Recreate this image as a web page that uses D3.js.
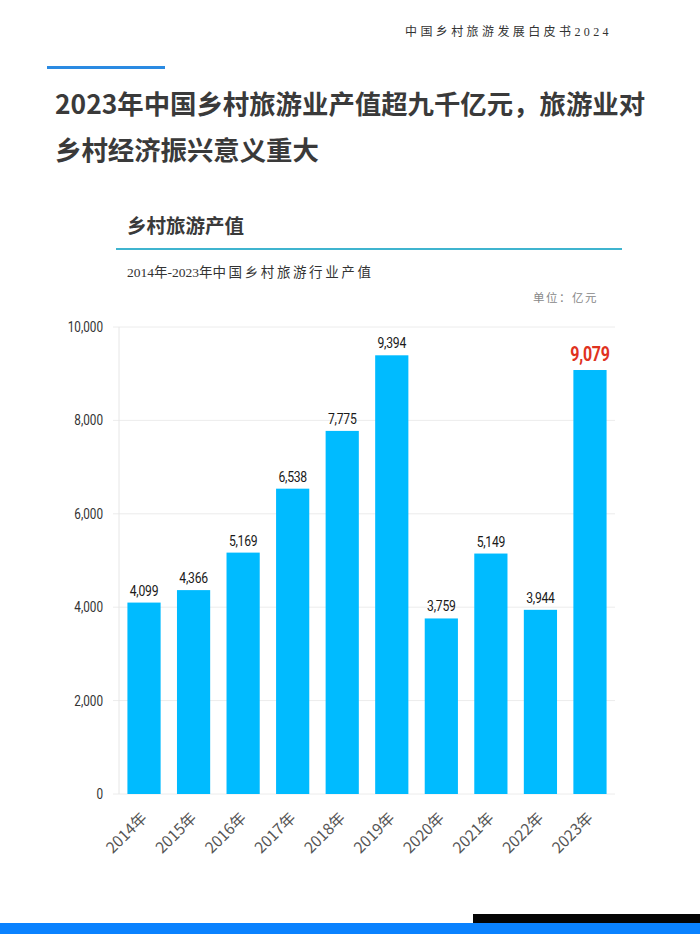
<!DOCTYPE html>
<html><head><meta charset="utf-8">
<script src="https://cdn.jsdelivr.net/npm/d3@7/dist/d3.min.js"></script>
<style>
html,body{margin:0;padding:0;background:#fff;}
svg{display:block;}
</style></head>
<body>
<svg id="c" width="700" height="934"></svg>
<script>
const years = ["2014年","2015年","2016年","2017年","2018年","2019年","2020年","2021年","2022年","2023年"];
const values = [4099,4366,5169,6538,7775,9394,3759,5149,3944,9079];
const yTicks = [0,2000,4000,6000,8000,10000];
const headerText = "中国乡村旅游发展白皮书2024";
const titleLines = ["2023年中国乡村旅游业产值超九千亿元，旅游业对","乡村经济振兴意义重大"];
const sectionTitle = "乡村旅游产值";
const subTitleA = "2014年-2023年";
const subTitleB = "中国乡村旅游行业产值";
const unitText = "单位：亿元";

const svg = d3.select("#c");
const cjk = "'Noto Sans CJK SC','Noto Sans',sans-serif";
const serif = "'Liberation Serif','DejaVu Serif','Noto Sans CJK SC',serif";
const narrow = "'Roboto','Noto Sans CJK SC',sans-serif";

// header
svg.append("text").attr("x",612).attr("y",36).attr("text-anchor","end")
  .attr("font-family",serif).attr("font-size",12).attr("letter-spacing",3.4)
  .attr("fill","#333").text(headerText);
svg.append("rect").attr("x",47).attr("y",66).attr("width",118).attr("height",3).attr("fill","#2a8ae2");

// title
titleLines.forEach((t,i)=>{
  svg.append("text").attr("x",55).attr("y",114+i*46)
    .attr("font-family",cjk).attr("font-weight",700).attr("font-size",26.4)
    .attr("fill","#3a3a3a").text(t);
});

// section
svg.append("text").attr("x",127).attr("y",233).attr("font-family",cjk).attr("font-weight",700)
  .attr("font-size",19.5).attr("fill","#3a3a3a").text(sectionTitle);
svg.append("rect").attr("x",116).attr("y",248).attr("width",506).attr("height",2).attr("fill","#3fb4cf");
const st = svg.append("text").attr("x",127).attr("y",277).attr("font-family",serif).attr("font-size",13.5)
  .attr("fill","#333");
st.append("tspan").text(subTitleA);
st.append("tspan").attr("letter-spacing",2.6).text(subTitleB);
svg.append("text").attr("x",598).attr("y",302).attr("text-anchor","end").attr("font-family",cjk)
  .attr("font-size",11.5).attr("letter-spacing",1.5).attr("fill","#888").text(unitText);

// chart
const x = d3.scaleBand().domain(years).range([119,615]).paddingInner(0.33).paddingOuter(0.17);
const y = d3.scaleLinear().domain([0,10000]).range([794,327]);

svg.append("g").selectAll("line").data(yTicks).join("line")
  .attr("x1",113).attr("x2",615).attr("y1",d=>y(d)).attr("y2",d=>y(d))
  .attr("stroke","#ececec").attr("stroke-width",1);
svg.append("line").attr("x1",119).attr("x2",119).attr("y1",y(10000)).attr("y2",y(0))
  .attr("stroke","#e6e6e6").attr("stroke-width",1);

const sx = 0.84;
const yAxis = svg.append("g").attr("transform","translate(119,0)")
  .call(d3.axisLeft(y).tickValues(yTicks).tickSize(0).tickPadding(19).tickFormat(d3.format(",")));
yAxis.select(".domain").remove();
yAxis.selectAll("text").attr("font-family",narrow).attr("font-size",14).attr("fill","#333")
  .attr("transform",`scale(${sx},1)`);

svg.append("g").selectAll("rect").data(values).join("rect")
  .attr("x",(d,i)=>x(years[i])).attr("width",x.bandwidth())
  .attr("y",d=>y(d)).attr("height",d=>y(0)-y(d)).attr("fill","#00bbff");

svg.append("g").selectAll("text").data(values).join("text")
  .attr("transform",(d,i)=>`translate(${x(years[i])+x.bandwidth()/2},${y(d)-(i===9?9:7)}) scale(${i===9?0.8:sx},1)`)
  .attr("text-anchor","middle").attr("font-family",narrow)
  .attr("font-size",(d,i)=>i===9?20:14.5)
  .attr("font-weight",(d,i)=>i===9?700:400)
  .attr("letter-spacing",-0.3)
  .attr("fill",(d,i)=>i===9?"#e0321e":"#1a1a1a")
  .text(d=>d3.format(",")(d));

const xAxis = svg.append("g").attr("transform","translate(0,794)")
  .call(d3.axisBottom(x).tickSize(0).tickPadding(0));
xAxis.select(".domain").remove();
xAxis.selectAll("text")
  .attr("font-family",cjk).attr("font-size",15.5).attr("fill","#555")
  .attr("text-anchor","end").attr("dy",0)
  .attr("transform","translate(4,25) rotate(-45)");

// footer bars
svg.append("rect").attr("x",473).attr("y",914).attr("width",227).attr("height",9).attr("fill","#050505");
svg.append("rect").attr("x",0).attr("y",923).attr("width",700).attr("height",11).attr("fill","#0a82ff");
</script>
</body></html>
